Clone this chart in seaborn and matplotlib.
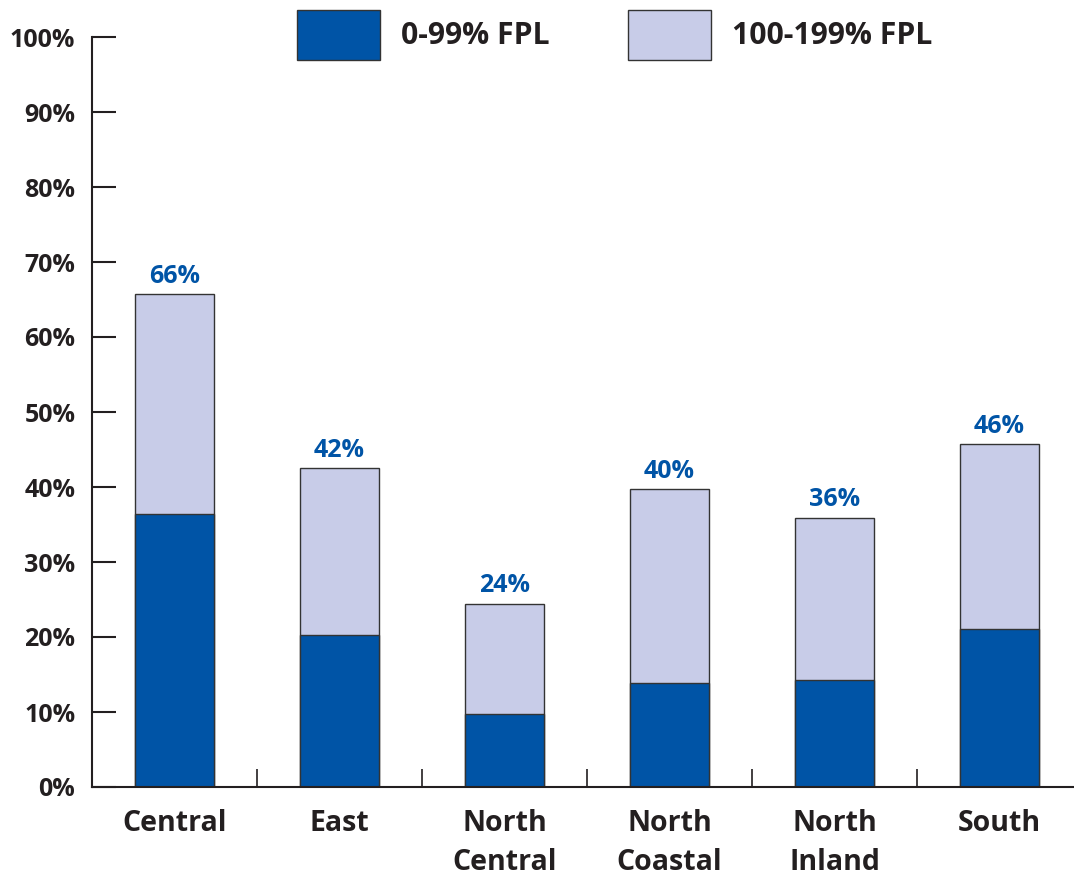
import matplotlib
matplotlib.use("Agg")
import matplotlib.pyplot as plt
import seaborn as sns
import pandas as pd
import numpy as np
from matplotlib.ticker import FixedLocator

regions = ["Central", "East", "North\nCentral", "North\nCoastal", "North\nInland", "South"]
below_100 = [36.4, 20.3, 9.7, 13.9, 14.3, 21.1]
total_199 = [65.7, 42.5, 24.4, 39.7, 35.9, 45.7]
total_labels = ["66%", "42%", "24%", "40%", "36%", "46%"]
y_ticks = [0, 10, 20, 30, 40, 50, 60, 70, 80, 90, 100]
series_names = ["0-99% FPL", "100-199% FPL"]

DARK = "#0054A6"
LIGHT = "#C8CCE8"
EDGE = "#333333"
TEXT = "#231F20"

sns.set_theme(style="white")
plt.rcParams["font.family"] = ["Open Sans", "DejaVu Sans"]
plt.rcParams["font.weight"] = "bold"

df = pd.DataFrame({"region": regions, "low": below_100, "total": total_199})

fig = plt.figure(figsize=(10.74, 8.77), dpi=100)
ax = fig.add_axes([92/1074, 90/877, 1 - 92/1074, (787-37)/877])

sns.barplot(data=df, x="region", y="total", color=LIGHT, edgecolor=EDGE,
            linewidth=1.0, width=0.48, saturation=1, ax=ax, label=series_names[1])
sns.barplot(data=df, x="region", y="low", color=DARK, edgecolor=EDGE,
            linewidth=1.0, width=0.48, saturation=1, ax=ax, label=series_names[0])
if ax.get_legend() is not None:
    ax.get_legend().remove()

ax.bar_label(ax.containers[0], labels=total_labels, padding=4,
             color=DARK, fontsize=18, fontweight="bold")

ax.set_ylim(0, 100)
ax.set_xlim(-0.5, (1074 - 92) / 165 - 0.5)
ax.set_yticks(y_ticks)
ax.set_yticklabels([f"{t}%" for t in y_ticks], fontsize=18, fontweight="bold", color=TEXT)
ax.set_xticks(range(len(regions)))
ax.set_xticklabels(regions, fontsize=20.5, fontweight="bold", color=TEXT, linespacing=1.45,
                   va="top")
ax.xaxis.set_minor_locator(FixedLocator([0.5, 1.5, 2.5, 3.5, 4.5]))
ax.tick_params(axis="y", which="major", direction="in", length=17, width=1.5,
               color=TEXT, pad=12, left=True)
ax.tick_params(axis="x", which="major", length=0, pad=16, bottom=True)
ax.tick_params(axis="x", which="minor", direction="in", length=13, width=1.2,
               color=TEXT, bottom=True)
ax.set_xlabel("")
ax.set_ylabel("")
for s in ["top", "right"]:
    ax.spines[s].set_visible(False)
for s in ["left", "bottom"]:
    ax.spines[s].set_color(TEXT)
    ax.spines[s].set_linewidth(1.5)

handles, labels = ax.get_legend_handles_labels()
order = [labels.index(series_names[0]), labels.index(series_names[1])]
leg = fig.legend([handles[i] for i in order], [labels[i] for i in order],
                 loc="upper left", bbox_to_anchor=(297/1074, 1 - 10/877),
                 ncol=2, frameon=False, fontsize=21.7, borderpad=0, borderaxespad=0,
                 handlelength=2.77, handleheight=2.15, handletextpad=0.68,
                 columnspacing=2.6)
for t in leg.get_texts():
    t.set_fontweight("bold")
    t.set_color(TEXT)

fig.savefig("out.png", dpi=100)
